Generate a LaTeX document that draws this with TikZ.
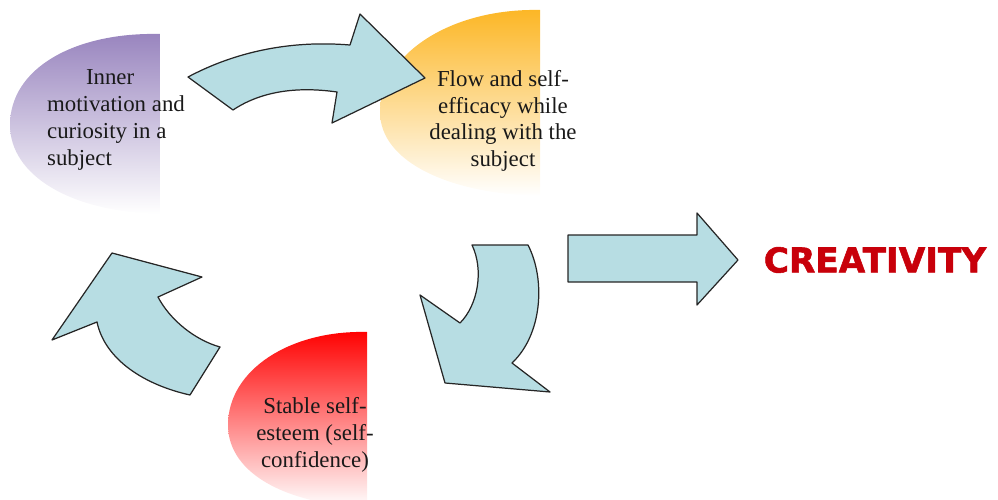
\documentclass[tikz,border=0pt]{standalone}
\usepackage{fontspec}
\setmainfont{Liberation Serif}
\newfontfamily\kreafont{DejaVu Sans}[BoldFeatures={FakeBold=1.6}]
\definecolor{pfeil}{RGB}{183,221,227}
\definecolor{lila}{RGB}{152,132,190}
\definecolor{gelb}{RGB}{252,182,36}
\definecolor{rot}{RGB}{255,0,0}
\definecolor{dunkelrot}{RGB}{200,0,10}
\tikzset{
  pfeilform/.style={fill=pfeil, draw=black!85, line width=0.7pt, line join=round},
  txt/.style={font=\fontsize{13}{15.2}\selectfont, text=black!90, inner sep=0pt}
}
\begin{document}
\begin{tikzpicture}[x=0.02cm, y=-0.02cm]
    \useasboundingbox (0,0) rectangle (998,500);
    \shade[top color=lila, middle color=lila!55, bottom color=white] (160,34) .. controls (75,32) and (10,68) .. (10,125) .. controls (10,175) and (70,212) .. (160,214) -- cycle;
    \shade[top color=gelb, middle color=gelb!50, bottom color=white] (540,10) .. controls (450,8) and (380,55) .. (380,112) .. controls (380,162) and (450,194) .. (540,196) -- cycle;
    \shade[top color=rot, middle color=rot!50, bottom color=white] (367,332) .. controls (290,330) and (228,370) .. (228,425) .. controls (228,475) and (290,505) .. (367,507) -- cycle;
    \draw[pfeilform] (188,77) .. controls (235,52) and (290,40) .. (350,45) -- (360,14) -- (425,78) -- (332,123) -- (337,92) .. controls (295,86) and (260,92) .. (233,110) -- cycle;
    \draw[pfeilform] (472,245) -- (528,245) .. controls (546,280) and (542,335) .. (512,363) -- (550,392) -- (445,383) -- (420,295) -- (460,323) .. controls (478,305) and (484,270) .. (472,245) -- cycle;
    \draw[pfeilform] (112,253) -- (202,277) -- (158,297) .. controls (170,320) and (195,340) .. (220,347) -- (190,395) .. controls (145,385) and (105,360) .. (97,322) -- (52,340) -- cycle;
    \draw[pfeilform] (568,235) -- (697,235) -- (697,213) -- (738,260) -- (697,305) -- (697,282) -- (568,282) -- cycle;
    \node[txt, align=left] (inner) at (116,120) {\hspace*{1.7em}Inner\\motivation and\\curiosity in a\\subject};
    \node[txt, align=center] (flow) at (503,121) {Flow and self-\\efficacy while\\dealing with the\\subject};
    \node[txt, align=center] (stable) at (315,435) {Stable self-\\esteem (self-\\confidence)};
    \node[font=\kreafont\bfseries\fontsize{19.5}{22}\selectfont, text=dunkelrot, inner sep=0pt] (krea) at (875,260) {CREATIVITY};
\end{tikzpicture}
\end{document}
